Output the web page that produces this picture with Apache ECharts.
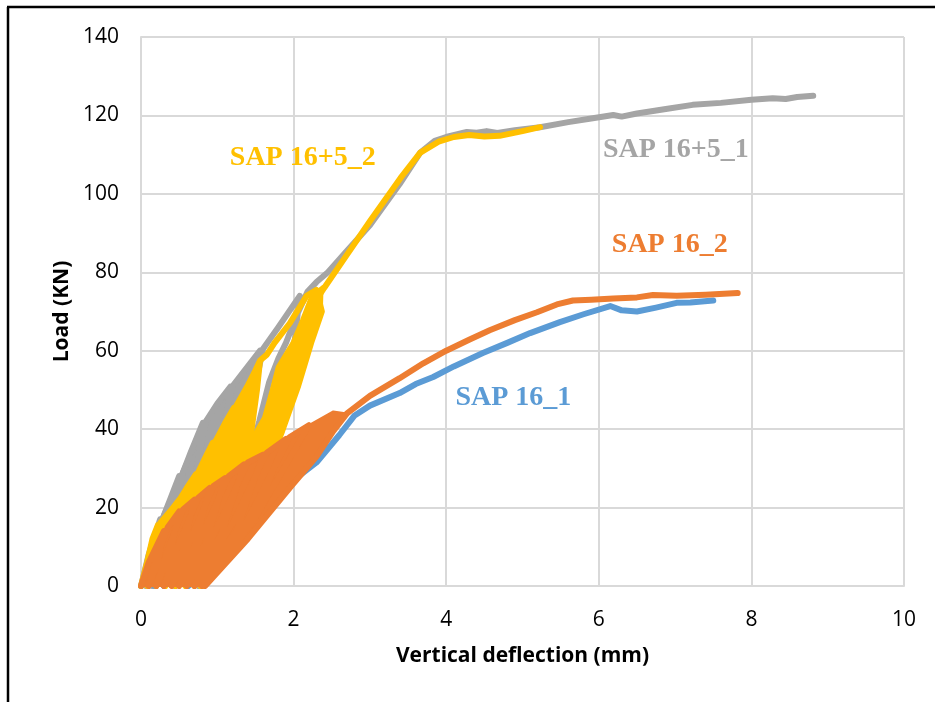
<!DOCTYPE html>
<html>
<head>
<meta charset="utf-8">
<script src="https://cdn.jsdelivr.net/npm/echarts@6/dist/echarts.min.js"></script>
<style>
  html, body { margin: 0; padding: 0; background: #fff; }
  #chart { width: 935px; height: 702px; }
</style>
</head>
<body>
<div id="chart"></div>
<script>
    'use strict';

    // axis ticks
    var xTicks = { min: 0, max: 10, step: 2 };
    var yTicks = { min: 0, max: 140, step: 20 };

    // SAP 16+5_1 (grey), deflection mm / load kN
    var sap1651 = [
        [0, 0], [0.1, 8], [0.2, 14], [0.25, 17],
        [0.18, 6], [0.06, 0], [0.15, 8], [0.3, 18], [0.4, 23], [0.5, 28],
        [0.4, 10], [0.15, 0], [0.35, 12], [0.55, 29], [0.65, 34], [0.81, 41.6],
        [0.65, 15], [0.3, 0], [0.6, 17], [0.85, 42], [1.0, 46.5], [1.17, 50.8],
        [0.95, 18], [0.45, 0], [0.85, 20], [1.2, 51], [1.4, 56], [1.56, 60],
        [1.3, 22], [0.6, 0], [1.1, 22], [1.4, 42], [1.6, 60.5], [1.8, 66], [2.08, 74],
        [2.0, 60], [1.85, 45], [1.6, 28], [0.75, 0], [1.2, 18], [1.55, 42], [1.68, 52],
        [1.8, 58], [1.9, 62], [2.04, 69], [2.18, 75],
        [2.3, 77.5], [2.45, 80], [2.7, 85.5], [3.0, 92], [3.39, 102.5], [3.66, 110.5],
        [3.85, 113.5], [4.0, 114.5], [4.27, 115.8], [4.4, 115.6], [4.53, 116], [4.67, 115.5],
        [4.9, 116.2], [5.23, 117], [5.6, 118.3], [5.9, 119.2], [6.19, 120.1], [6.3, 119.7],
        [6.5, 120.5], [6.9, 121.7], [7.23, 122.7], [7.6, 123.2], [8.0, 124], [8.28, 124.4],
        [8.45, 124.2], [8.6, 124.7], [8.81, 125]
    ];
    // region covered by the early SAP 16+5_1 cycles
    var sap1651Band = [
        [0, 0], [0.1, 8], [0.25, 17], [0.5, 28], [0.81, 41.6], [1.17, 50.8], [1.56, 60],
        [1.4, 45], [1.2, 30], [0.9, 12], [0.6, 0]
    ];

    // SAP 16+5_2 (yellow)
    var sap1652 = [
        [0, 0], [0.08, 6], [0.15, 12], [0.22, 15.5],
        [0.18, 6], [0.08, 0], [0.16, 7], [0.25, 16], [0.38, 19], [0.5, 22],
        [0.42, 9], [0.2, 0], [0.38, 10], [0.52, 22.5], [0.6, 25], [0.72, 28.5],
        [0.6, 12], [0.32, 0], [0.55, 13], [0.75, 29], [0.85, 33], [0.94, 36.5],
        [0.8, 15], [0.45, 0], [0.75, 16], [0.98, 37], [1.1, 41.5], [1.22, 45.5],
        [1.05, 18], [0.58, 0], [0.95, 19], [1.25, 46], [1.39, 50.8], [1.5, 55], [1.56, 57.5],
        [1.52, 50], [1.45, 40], [1.3, 28], [1.0, 12], [0.7, 0],
        [1.0, 12], [1.3, 28], [1.42, 40], [1.5, 48], [1.56, 57.5], [1.65, 59],
        [1.75, 62], [1.95, 67], [2.17, 74], [2.3, 75.5],
        [2.37, 70], [2.23, 62], [2.06, 51], [1.85, 39.5], [1.5, 22], [0.82, 0],
        [0.78, 0], [1.3, 20], [1.6, 32], [1.85, 46], [2.05, 60], [2.2, 70], [2.4, 76],
        [2.7, 84.5], [3.0, 93], [3.4, 104], [3.66, 110.5], [3.9, 113.3], [4.1, 114.5],
        [4.3, 115], [4.5, 114.6], [4.7, 114.8], [5.0, 116], [5.23, 117]
    ];
    // early cycles of SAP 16+5_2, and its last loop
    var sap1652BandA = [
        [0, 0], [0.08, 6], [0.15, 12], [0.22, 15.5], [0.5, 22], [0.72, 28.5], [0.94, 36.5],
        [1.22, 45.5], [1.39, 50.8], [1.56, 57.5], [1.52, 50], [1.47, 44], [1.43, 38],
        [1.6, 32], [1.65, 30], [1.3, 18], [0.8, 0]
    ];
    var sap1652BandB = [
        [1.45, 38], [1.6, 43], [1.7, 50], [1.78, 56], [1.97, 62], [2.1, 68], [2.22, 74],
        [2.38, 76.5], [2.37, 70], [2.23, 62], [2.06, 51], [1.85, 39.5], [1.7, 33], [1.5, 30]
    ];

    // SAP 16_1 (blue)
    var sap161 = [
        [0, 0], [0.1, 4], [0.2, 8], [0.29, 11],
        [0.22, 4], [0.1, 0], [0.2, 5], [0.32, 11.5], [0.4, 14], [0.47, 16],
        [0.38, 6], [0.18, 0], [0.35, 7], [0.5, 16.5], [0.65, 19.5], [0.8, 22],
        [0.62, 8], [0.3, 0], [0.55, 9], [0.85, 22.5], [1.0, 25], [1.2, 28],
        [0.95, 10], [0.45, 0], [0.8, 11], [1.25, 28.5], [1.4, 30.2], [1.6, 32],
        [1.3, 12], [0.62, 0], [1.1, 13], [1.65, 32.5], [1.8, 34], [2.0, 36], [2.2, 38], [2.4, 39.5],
        [2.2, 35], [1.8, 24], [1.3, 12], [0.8, 0],
        [1.0, 4.5], [1.5, 16], [2.0, 27], [2.3, 31.5], [2.6, 38.5], [2.8, 43.5], [3.0, 46],
        [3.39, 49.2], [3.6, 51.5], [3.83, 53.3], [4.1, 56], [4.48, 59.4], [4.8, 62],
        [5.1, 64.5], [5.49, 67.3], [5.8, 69.3], [6.15, 71.4], [6.3, 70.3], [6.5, 70],
        [6.75, 71], [7.02, 72.2], [7.2, 72.3], [7.5, 72.8]
    ];

    // SAP 16_2 (orange)
    var sap162 = [
        [0, 0], [0.1, 6], [0.2, 10], [0.3, 14],
        [0.22, 6], [0.1, 0], [0.2, 7], [0.35, 15], [0.5, 19],
        [0.38, 8], [0.2, 0], [0.35, 9], [0.55, 19.5], [0.7, 22],
        [0.55, 9], [0.3, 0], [0.5, 11], [0.75, 22.5], [0.9, 25],
        [0.7, 10], [0.4, 0], [0.65, 12], [0.95, 25.5], [1.1, 27.5],
        [0.85, 11], [0.5, 0], [0.8, 13], [1.15, 28], [1.35, 31],
        [1.05, 13], [0.6, 0], [1.0, 15], [1.4, 31.5], [1.6, 33.5],
        [1.25, 14], [0.7, 0], [1.2, 16], [1.65, 34], [1.9, 37.5],
        [1.45, 16], [0.8, 0], [1.4, 17], [1.95, 38], [2.2, 41],
        [1.5, 17.5], [0.84, 0], [1.4, 12], [1.97, 25.5], [2.3, 33], [2.52, 39.5], [2.7, 44],
        [3.0, 48.5], [3.39, 53], [3.7, 56.8], [4.0, 60], [4.3, 62.8], [4.57, 65.2],
        [4.9, 67.8], [5.19, 69.8], [5.45, 71.8], [5.66, 72.8], [5.9, 73], [6.19, 73.3],
        [6.5, 73.6], [6.71, 74.2], [7.02, 74], [7.4, 74.3], [7.82, 74.7]
    ];
    var sap162Band = [
        [0, 0], [0.1, 6], [0.2, 10], [0.3, 14], [0.5, 19], [0.7, 22], [0.9, 25], [1.1, 27.5],
        [1.35, 31], [1.6, 33.5], [1.9, 37.5], [2.2, 41], [2.52, 44.5], [2.7, 44],
        [2.52, 39.5], [2.3, 33], [1.97, 25.5], [1.4, 12], [0.84, 0]
    ];

    var seriesNames = ['SAP 16+5_1', 'SAP 16_1', 'SAP 16+5_2', 'SAP 16_2'];
    var seriesData = [sap1651, sap161, sap1652, sap162];
    var seriesBands = [[sap1651Band], [], [sap1652BandA, sap1652BandB], [sap162Band]];
    var seriesColors = ['#a5a5a5', '#5b9bd5', '#ffc000', '#ed7d31'];

    // where the series names sit, in data units
    var labelAnchors = [[7.01, 111.2], [4.88, 48], [2.12, 109.2], [6.93, 87]];

    var chart = echarts.init(document.getElementById('chart'), null, { renderer: 'canvas' });

    var gridColor = '#d9d9d9';
    var tickFont = { fontFamily: 'Open Sans', fontSize: 21, color: '#000' };

    function bandSeries(points, color, z) {
        return {
            type: 'custom',
            coordinateSystem: 'cartesian2d',
            silent: true,
            z: z,
            data: [points[0]],
            renderItem: function(params, api) {
                return {
                    type: 'polygon',
                    shape: { points: points.map(function(p) { return api.coord(p); }) },
                    style: { fill: color, stroke: color, lineWidth: 2, lineJoin: 'round' }
                };
            }
        };
    }

    var series = [];
    seriesData.forEach(function(d, i) {
        seriesBands[i].forEach(function(b) {
            series.push(bandSeries(b, seriesColors[i], 2 + i * 2));
        });
        series.push({
            name: seriesNames[i],
            type: 'line',
            data: d,
            showSymbol: false,
            symbol: 'none',
            smooth: false,
            z: 3 + i * 2,
            lineStyle: { color: seriesColors[i], width: 6, cap: 'round', join: 'round' }
        });
    });

    chart.setOption({
        animation: false,
        backgroundColor: '#fff',
        grid: { left: 141, right: 31, top: 37, bottom: 116 },
        xAxis: {
            type: 'value',
            min: xTicks.min, max: xTicks.max, interval: xTicks.step,
            name: 'Vertical deflection (mm)',
            nameLocation: 'middle', nameGap: 60,
            nameTextStyle: { fontFamily: 'Open Sans', fontWeight: 'bold', fontSize: 21, color: '#000' },
            axisLine: { show: true, lineStyle: { color: gridColor, width: 2 } },
            axisTick: { show: false },
            splitLine: { show: true, lineStyle: { color: gridColor, width: 2 } },
            axisLabel: Object.assign({ margin: 24 }, tickFont)
        },
        yAxis: {
            type: 'value',
            min: yTicks.min, max: yTicks.max, interval: yTicks.step,
            name: 'Load (KN)',
            nameLocation: 'middle', nameGap: 68, nameRotate: 90,
            nameTextStyle: { fontFamily: 'Open Sans', fontWeight: 'bold', fontSize: 21, color: '#000' },
            axisLine: { show: true, lineStyle: { color: gridColor, width: 2 } },
            axisTick: { show: false },
            splitLine: { show: true, lineStyle: { color: gridColor, width: 2 } },
            axisLabel: Object.assign({ margin: 22 }, tickFont)
        },
        series: series
    });

    // frame and series labels
    var graphics = [
        { type: 'line', shape: { x1: 8, y1: 7, x2: 8, y2: 702 }, style: { stroke: '#000', lineWidth: 2.5 }, z: 10 },
        { type: 'line', shape: { x1: 7, y1: 7, x2: 935, y2: 7 }, style: { stroke: '#000', lineWidth: 2.5 }, z: 10 }
    ];
    labelAnchors.forEach(function(a, i) {
        var p = chart.convertToPixel({ gridIndex: 0 }, a);
        graphics.push({
            type: 'text',
            x: p[0], y: p[1], z: 20,
            style: {
                text: seriesNames[i],
                fill: seriesColors[i],
                font: 'bold 28px "Liberation Serif", serif',
                align: 'center', verticalAlign: 'middle',
                backgroundColor: i === 0 ? '#fff' : null,
                padding: i === 0 ? [10, 2, 12, 2] : 0
            }
        });
    });
    chart.setOption({ graphic: graphics });
</script>
</body>
</html>
